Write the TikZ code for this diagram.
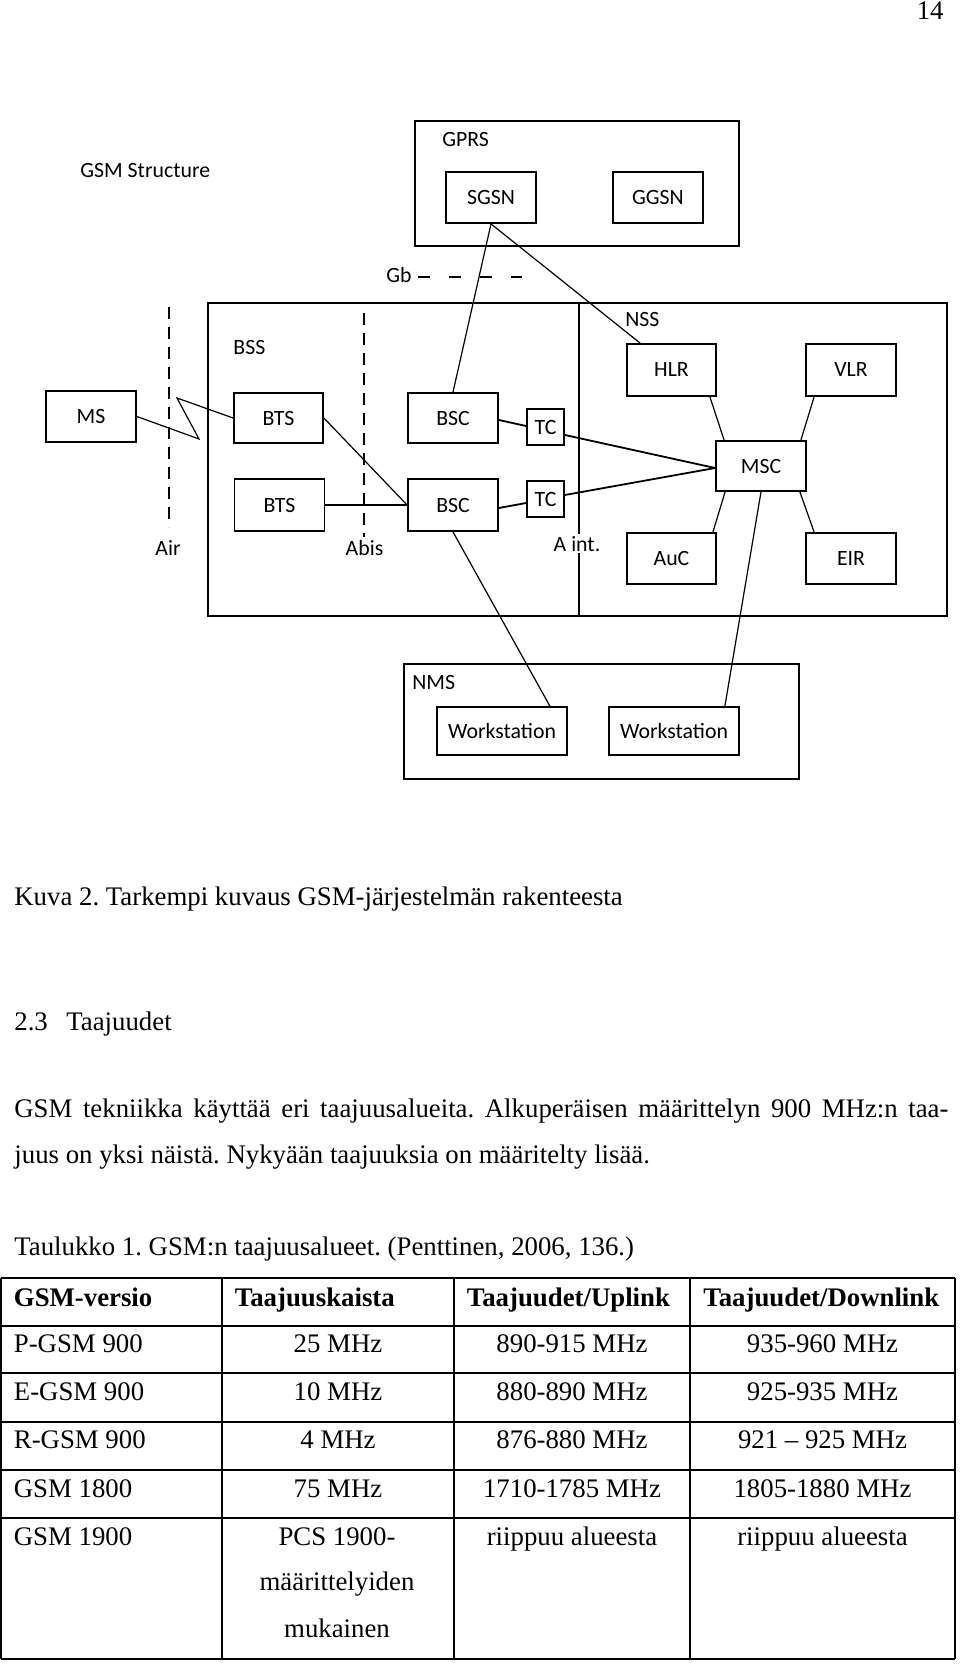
\documentclass[tikz,border=0pt]{standalone}
\usepackage{fontspec}
\setmainfont{Liberation Serif}
\newfontfamily\diagfont{Carlito}
\usetikzlibrary{calc}
\frenchspacing
\tikzset{
  box/.style={draw, line width=0.9pt, inner sep=0pt, font=\diagfont\fontsize{10.9}{13}\selectfont},
  group/.style={draw, line width=1pt, inner sep=0pt},
  wire/.style={line width=0.6pt},
  boldwire/.style={line width=0.9pt},
  lbl/.style={inner sep=0pt, font=\diagfont\fontsize{10.9}{13}\selectfont},
  ifdash/.style={line width=0.7pt, dash pattern=on 6pt off 4pt},
  gbdash/.style={line width=0.7pt, dash pattern=on 6pt off 9.5pt},
  txt/.style={inner sep=0pt, font=\fontsize{13.4}{16}\selectfont},
  hdr/.style={inner sep=0pt, font=\bfseries\fontsize{13.4}{16}\selectfont},
  rule/.style={line width=0.75pt},
}
\begin{document}
\begin{tikzpicture}[x=0.5pt,y=-0.5pt]
\useasboundingbox (0,0) rectangle (960,1664);
\fill[white] (0,0) rectangle (960,1664);

% page number
\node[txt, anchor=base east] (pagenum) at (944,20) {14};

% ---------- diagram ----------
\node[lbl, anchor=base west] (title) at (80,178) {GSM Structure};

\node[group, minimum width=162.25pt, minimum height=62.5pt] (gprs) at (577,183.5) {};
\node[lbl, anchor=base west] (gprslbl) at (442,147) {GPRS};
\node[box, minimum width=45pt, minimum height=25.5pt] (sgsn) at (491,197.5) {SGSN};
\node[box, minimum width=45pt, minimum height=25.5pt] (ggsn) at (658,197.5) {GGSN};

\node[group, minimum width=369.5pt, minimum height=156.5pt] (core) at (577.5,459.5) {};
\coordinate (divtop) at (579,303);
\coordinate (divbot) at (579,616);
\draw[line width=0.7pt] (divtop) -- (divbot);
\node[lbl, anchor=base west] (bsslbl) at (233,354) {BSS};
\node[lbl, anchor=base west] (nsslbl) at (625,326) {NSS};

\node[box, minimum width=44.5pt, minimum height=26pt] (hlr) at (671.5,370) {HLR};
\node[box, minimum width=45pt, minimum height=26pt] (vlr) at (851,370) {VLR};
\node[box, minimum width=45pt, minimum height=25.5pt] (ms) at (91,416.5) {MS};
\node[box, minimum width=44.5pt, minimum height=25pt] (bts1) at (278.5,418) {BTS};
\node[box, minimum width=45pt, minimum height=25pt] (bsc1) at (453,418) {BSC};
\node[box, minimum width=18.5pt, minimum height=18pt] (tc1) at (545.5,427) {TC};
\node[box, minimum width=18.5pt, minimum height=18pt] (tc2) at (545.5,499) {TC};
\node[box, minimum width=45pt, minimum height=25pt] (msc) at (761,466) {MSC};
\node[box, minimum width=45pt, minimum height=26pt] (bts2) at (279.5,505) {BTS};
\node[box, minimum width=45pt, minimum height=26pt] (bsc2) at (453,505) {BSC};
\node[box, minimum width=44.5pt, minimum height=25.5pt] (auc) at (671.5,558.5) {AuC};
\node[box, minimum width=45pt, minimum height=25.5pt] (eir) at (851,558.5) {EIR};

\node[group, minimum width=197.5pt, minimum height=57.5pt] (nms) at (601.5,721.5) {};
\node[lbl, anchor=base west] (nmslbl) at (412,689) {NMS};
\node[box, minimum width=65pt, minimum height=24pt] (ws1) at (502,731) {Workstation};
\node[box, minimum width=65pt, minimum height=24pt] (ws2) at (674,731) {Workstation};

% interfaces
\coordinate (airtop) at (169,307);
\coordinate (airbot) at (169,527);
\coordinate (abistop) at (364,313);
\coordinate (abisbot) at (364,537);
\draw[ifdash] (airtop) -- (airbot);
\draw[ifdash] (abistop) -- (abisbot);
\node[lbl, anchor=base] (airlbl) at (168,555) {Air};
\node[lbl, anchor=base] (abislbl) at (364.5,555) {Abis};
\node[lbl, anchor=base, fill=white, inner sep=1pt] (aintlbl) at (577,551) {A int.};

\node[lbl, anchor=base west] (gblbl) at (386,283) {Gb};
\coordinate (gbs) at (418,277);
\coordinate (gbe) at (522,277);
\draw[gbdash] (gbs) -- (gbe);

% connectors
\draw[wire] (sgsn.south) -- (bsc1.north);
\draw[wire] (sgsn.south) -- ($(hlr.north west)+(14,0)$);
\coordinate (z1) at (199,439);
\coordinate (z2) at (177,398);
\draw[wire] (ms.east) -- (z1) -- (z2) -- (bts1.west);
\draw[wire] (bts1.east) -- (bsc2.west);
\draw[wire] (bts2.east) -- (bsc2.west);
\draw[boldwire] ($(bsc1.east)+(0,2)$) -- ($(tc1.west)+(0,-1)$);
\draw[boldwire] ($(bsc2.east)+(0,3)$) -- ($(tc2.west)+(0,4)$);
\draw[boldwire] ($(tc1.east)+(0,8)$) -- ($(msc.west)+(0,2)$);
\draw[boldwire] ($(tc2.east)+(0,-4)$) -- ($(msc.west)+(0,2)$);
\draw[wire] ($(hlr.south east)+(-7,0)$) -- ($(msc.north west)+(9,0)$);
\draw[wire] ($(vlr.south west)+(9,0)$) -- ($(msc.north east)+(-6,0)$);
\draw[wire] ($(msc.south west)+(10,0)$) -- ($(auc.north east)+(-4,0)$);
\draw[wire] ($(msc.south east)+(-7,0)$) -- ($(eir.north west)+(9,0)$);
\draw[wire] (bsc2.south) -- ($(ws1.north east)+(-18,0)$);
\draw[wire] (msc.south) -- ($(ws2.north east)+(-15,0)$);

% ---------- text ----------
\node[txt, anchor=base west] (caption) at (14,905) {Kuva 2. Tarkempi kuvaus GSM-järjestelmän rakenteesta};
\node[txt, anchor=base west] (secnum) at (14,1030) {2.3};
\node[txt, anchor=base west] (sectitle) at (66,1030) {Taajuudet};
\node[txt, anchor=base west] (par1) at (14,1117) {\makebox[467pt][s]{GSM tekniikka käyttää eri taajuusalueita. Alkuperäisen määrittelyn 900 MHz:n taa-}};
\node[txt, anchor=base west] (par2) at (14,1163) {juus on yksi näistä. Nykyään taajuuksia on määritelty lisää.};
\node[txt, anchor=base west] (tabcap) at (14,1255) {Taulukko 1. GSM:n taajuusalueet. (Penttinen, 2006, 136.)};

% ---------- table ----------
\foreach \yy in {1278,1326,1373,1422,1470,1518,1659} \draw[rule] (1,\yy) -- (955,\yy);
\foreach \xx in {1,222,454,690,955} \draw[rule] (\xx,1278) -- (\xx,1659);

\node[hdr, anchor=base west] (h1) at (13.5,1306) {GSM-versio};
\node[hdr, anchor=base west] (h2) at (234.5,1306) {Taajuuskaista};
\node[hdr, anchor=base west] (h3) at (466.5,1306) {Taajuudet/Uplink};
\node[hdr, anchor=base west] (h4) at (703,1306) {Taajuudet/Downlink};

\node[txt, anchor=base west] (r1a) at (13.5,1352) {P-GSM 900};
\node[txt, anchor=base] (r1b) at (338,1352) {25 MHz};
\node[txt, anchor=base] (r1c) at (572,1352) {890-915 MHz};
\node[txt, anchor=base] (r1d) at (822.5,1352) {935-960 MHz};

\node[txt, anchor=base west] (r2a) at (13.5,1400) {E-GSM 900};
\node[txt, anchor=base] (r2b) at (338,1400) {10 MHz};
\node[txt, anchor=base] (r2c) at (572,1400) {880-890 MHz};
\node[txt, anchor=base] (r2d) at (822.5,1400) {925-935 MHz};

\node[txt, anchor=base west] (r3a) at (13.5,1448) {R-GSM 900};
\node[txt, anchor=base] (r3b) at (338,1448) {4 MHz};
\node[txt, anchor=base] (r3c) at (572,1448) {876-880 MHz};
\node[txt, anchor=base] (r3d) at (822.5,1448) {921 – 925 MHz};

\node[txt, anchor=base west] (r4a) at (13.5,1497) {GSM 1800};
\node[txt, anchor=base] (r4b) at (338,1497) {75 MHz};
\node[txt, anchor=base] (r4c) at (572,1497) {1710-1785 MHz};
\node[txt, anchor=base] (r4d) at (822.5,1497) {1805-1880 MHz};

\node[txt, anchor=base west] (r5a) at (13.5,1545) {GSM 1900};
\node[txt, anchor=base] (r5b) at (337,1545) {PCS 1900-};
\node[txt, anchor=base] (r5b2) at (337,1590) {määrittelyiden};
\node[txt, anchor=base] (r5b3) at (337,1637) {mukainen};
\node[txt, anchor=base] (r5c) at (572,1545) {riippuu alueesta};
\node[txt, anchor=base] (r5d) at (822.5,1545) {riippuu alueesta};
\end{tikzpicture}
\end{document}
